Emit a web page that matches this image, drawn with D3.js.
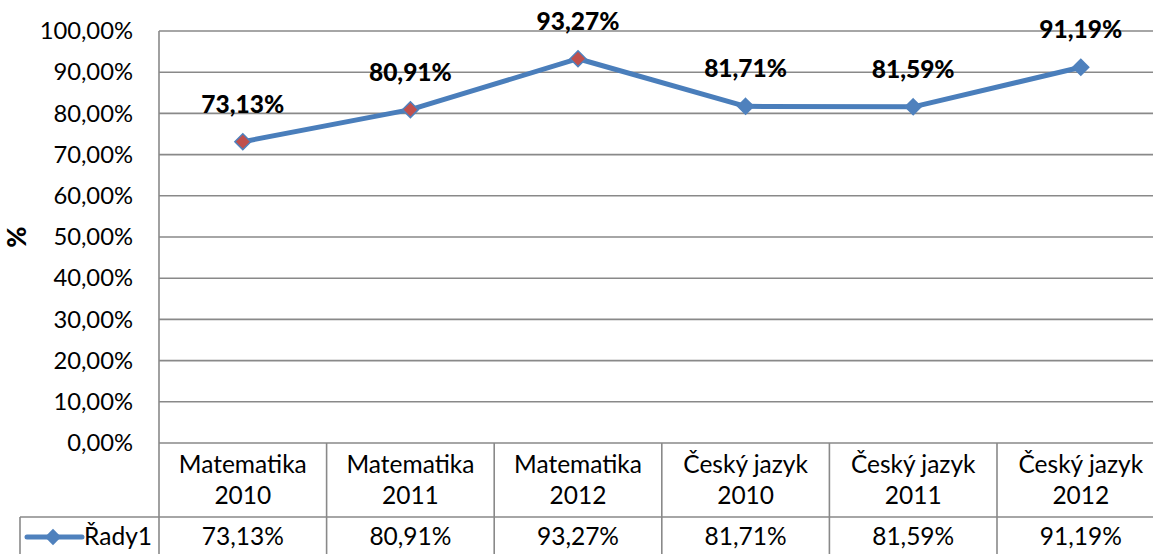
<!DOCTYPE html>
<html><head><meta charset="utf-8">
<script src="https://cdn.jsdelivr.net/npm/d3@7"></script>
<style>body{margin:0;background:#fff}svg{display:block}</style>
</head><body>
<svg id="c" width="1153" height="554"></svg>
<script>
const categories = [["Matematika","2010"],["Matematika","2011"],["Matematika","2012"],["Český jazyk","2010"],["Český jazyk","2011"],["Český jazyk","2012"]];
const values = [0.7313, 0.8091, 0.9327, 0.8171, 0.8159, 0.9119];
const valueLabels = ["73,13%","80,91%","93,27%","81,71%","81,59%","91,19%"];
const markerFills = ["#c0504d","#c0504d","#c0504d","#4f81bd","#4f81bd","#4f81bd"];
const yTicks = [0,0.1,0.2,0.3,0.4,0.5,0.6,0.7,0.8,0.9,1.0];
const seriesName = "Řady1";
const yTitle = "%";

(function(){
const svg = d3.select("#c");
const FONT = "Lato, 'Open Sans', sans-serif";

const probe = svg.append("text").attr("font-family",FONT).attr("font-size",100).text("Matematika");
const fs = 128 / probe.node().getComputedTextLength() * 100;
probe.remove();

const pLeft = 159, pRight = 1164.6, pTop = 31, pBottom = 443;
const x = d3.scaleBand().domain(d3.range(categories.length)).range([pLeft,pRight]).padding(0);
const y = d3.scaleLinear().domain([0,1]).range([pBottom,pTop]);
const grid = "#898989";
const fmt = v => d3.format(".2f")(v*100).replace(".",",") + "%";

svg.append("g").selectAll("line").data(yTicks.filter(d=>d>0)).join("line")
  .attr("x1",pLeft).attr("x2",pRight).attr("y1",d=>y(d)).attr("y2",d=>y(d))
  .attr("stroke",grid).attr("stroke-width",1.6);

const yAxis = d3.axisLeft(y).tickValues(yTicks).tickFormat(fmt).tickSize(0).tickPadding(26);
const ya = svg.append("g").attr("transform",`translate(${pLeft},0)`).call(yAxis);
ya.select(".domain").remove();
ya.selectAll("text").attr("font-family",FONT).attr("font-size",fs*0.97).attr("fill","#000").attr("dy","0.32em");

svg.append("line").attr("x1",pLeft).attr("x2",pLeft).attr("y1",pTop).attr("y2",554)
  .attr("stroke",grid).attr("stroke-width",1.6);
svg.append("line").attr("x1",pLeft).attr("x2",pRight).attr("y1",pBottom).attr("y2",pBottom)
  .attr("stroke",grid).attr("stroke-width",1.6);

const rowTop2 = 517;
svg.append("line").attr("x1",20).attr("x2",pRight).attr("y1",rowTop2).attr("y2",rowTop2)
  .attr("stroke",grid).attr("stroke-width",1.6);
svg.append("line").attr("x1",20).attr("x2",20).attr("y1",rowTop2).attr("y2",554)
  .attr("stroke",grid).attr("stroke-width",1.6);
svg.append("g").selectAll("line").data(d3.range(1,categories.length+1)).join("line")
  .attr("x1",d=>pLeft + d*x.bandwidth()).attr("x2",d=>pLeft + d*x.bandwidth())
  .attr("y1",pBottom).attr("y2",554).attr("stroke",grid).attr("stroke-width",1.6);

const cx = i => x(i)+x.bandwidth()/2;
const cat = svg.append("g").selectAll("text").data(categories).join("text")
  .attr("x",(d,i)=>cx(i)).attr("y",473)
  .attr("text-anchor","middle").attr("font-family",FONT).attr("font-size",fs).attr("fill","#000");
cat.append("tspan").attr("x",(d,i)=>cx(i)).text(d=>d[0]);
cat.append("tspan").attr("x",(d,i)=>cx(i)).attr("dy",31).text(d=>d[1]);

svg.append("g").selectAll("text").data(valueLabels).join("text")
  .attr("x",(d,i)=>cx(i)).attr("y",545)
  .attr("text-anchor","middle").attr("font-family",FONT).attr("font-size",fs).attr("fill","#000")
  .text(d=>d);

svg.append("line").attr("x1",27).attr("x2",82).attr("y1",537).attr("y2",537)
  .attr("stroke","#4f81bd").attr("stroke-width",5).attr("stroke-linecap","round");
svg.append("path").attr("d",d3.symbol(d3.symbolDiamond2, 170)())
  .attr("transform","translate(53,537)").attr("fill","#4f81bd");
svg.append("text").attr("x",152).attr("y",545).attr("text-anchor","end")
  .attr("font-family",FONT).attr("font-size",fs).attr("fill","#000").text(seriesName);

svg.append("path").datum(values)
  .attr("d",d3.line().x((d,i)=>cx(i)).y(d=>y(d)))
  .attr("fill","none").attr("stroke","#4a7ebb").attr("stroke-width",5).attr("stroke-linejoin","round");

svg.append("g").selectAll("path").data(values).join("path")
  .attr("d",d3.symbol(d3.symbolDiamond2, 160)())
  .attr("transform",(d,i)=>`translate(${cx(i)},${y(d)})`)
  .attr("fill",(d,i)=>markerFills[i]).attr("stroke","#4f81bd").attr("stroke-width",1.5);

svg.append("g").selectAll("text").data(valueLabels).join("text")
  .attr("x",(d,i)=>cx(i)).attr("y",(d,i)=>y(values[i])-29)
  .attr("text-anchor","middle").attr("font-family",FONT).attr("font-weight","900")
  .attr("font-size",fs).attr("fill","#000").text(d=>d);

svg.append("text").attr("transform","translate(26,237) rotate(-90)").attr("text-anchor","middle")
  .attr("font-family",FONT).attr("font-weight","900").attr("font-size",fs*1.05).attr("fill","#000").text(yTitle);
})();
</script>
</body></html>
